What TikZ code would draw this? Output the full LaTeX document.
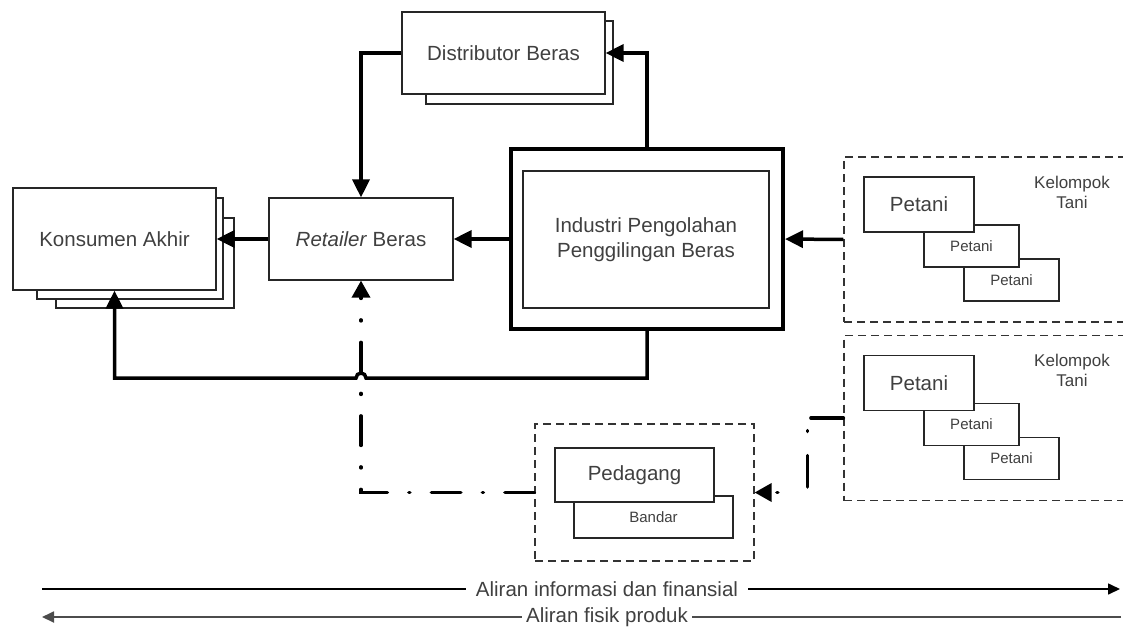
\documentclass[tikz,border=0pt]{standalone}
\usepackage{fontspec}
\setmainfont{Liberation Sans}
\usetikzlibrary{arrows.meta}
\definecolor{txtgray}{HTML}{404040}
\newcommand{\bigtxt}{\fontsize{20.5}{25}\selectfont}
\newcommand{\midtxt}{\fontsize{17}{20}\selectfont}
\newcommand{\smalltxt}{\fontsize{15}{18}\selectfont}

\begin{document}
\begin{tikzpicture}[x=1pt,y=-1pt,
	box/.style={draw=black!85,line width=1.2pt,fill=white,inner sep=0pt,text=txtgray,font=\bigtxt},
	group/.style={draw=black!80,line width=1.2pt,dash pattern=on 8pt off 5pt,inner sep=0pt},
	flow/.style={line width=3.5pt,-{Triangle[length=18pt,width=17pt]}},
	infoflow/.style={line width=3.5pt,line cap=round,dash pattern=on 29.5pt off 21.5pt on 1pt off 21.5pt,-{Triangle[length=17pt,width=18pt]}}]
	\useasboundingbox (0,0) rectangle (1123,626);
	% konsumen (tumpukan)
	\node[box,minimum width=178pt,minimum height=90pt] (kons3) at (145,263) {};
	\node[box,minimum width=186pt,minimum height=101pt] (kons2) at (130,248.5) {};
	\node[box,minimum width=203pt,minimum height=102pt] (kons) at (114.5,239) {Konsumen Akhir};
	\node[box,minimum width=184pt,minimum height=82pt] (ret) at (361,239) {\textit{Retailer} Beras};
	% distributor
	\node[box,minimum width=187pt,minimum height=83pt] (dist2) at (519.5,62.5) {};
	\node[box,minimum width=203pt,minimum height=82pt] (dist) at (503.5,53) {Distributor Beras};
	% industri
	\node[draw,line width=4pt,fill=white,inner sep=0pt,minimum width=272pt,minimum height=180pt] (ind) at (647,239) {};
	\node[box,minimum width=246pt,minimum height=137pt,align=center] (indin) at (646,239.5) {Industri Pengolahan\\Penggilingan Beras};
	% kelompok tani
	\foreach \g/\dy in {1/0,2/178.5}
	{
		\node[group,minimum width=286pt,minimum height=165pt] (kt\g) at (987,{239.5+\dy}) {};
		\node[box,font=\smalltxt,minimum width=95pt,minimum height=42pt] (pc\g) at (1011.5,{280+\dy}) {Petani};
		\node[box,font=\smalltxt,minimum width=95pt,minimum height=42pt] (pb\g) at (971.5,{246+\dy}) {Petani};
		\node[box,minimum width=110pt,minimum height=55pt] (pa\g) at (919,{204.5+\dy}) {Petani};
		\node[text=txtgray,font=\midtxt,align=center] (kt\g lbl) at (1072,{192+\dy}) {Kelompok\\Tani};
	}
	% pedagang
	\node[group,minimum width=219pt,minimum height=137pt] (ped) at (644.5,492.5) {};
	\node[box,font=\smalltxt,minimum width=159pt,minimum height=42pt] (bandar) at (653.5,517) {Bandar};
	\node[box,minimum width=159pt,minimum height=54pt] (pedagang) at (634.5,475) {Pedagang};
	\coordinate (jump) at (361,378);
	% aliran
	\draw[flow] (ret.west) -- (kons.east);
	\draw[flow] (ind.west) -- (ret.east);
	\draw[flow] (dist.west) -| (ret.north);
	\draw[flow] (ind.north) |- (dist.east);
	\draw[flow] (kt1.west) -- (ind.east);
	\draw[flow] (ind.south) |- ([xshift=5pt]jump) arc[start angle=0,end angle=180,radius=5pt] -| (kons.south);
	\draw[infoflow] (ped.west) -| (ret.south);
	\draw[infoflow,dash pattern=on 32.5pt off 16pt on 1pt off 24pt on 31.5pt off 35pt on 1pt off 40pt] (kt2.west) -- ++(-36,0) |- (ped.east);
	% keterangan
	\coordinate (infoL) at (42,589);
	\coordinate (infoR) at (1120,589);
	\coordinate (fisL) at (42,617);
	\coordinate (fisR) at (1121,617);
	\draw[line width=1.6pt,-{Triangle[length=12pt,width=11pt]}] (infoL) -- (infoR);
	\draw[line width=1.8pt,draw=black!70,-{Triangle[length=12pt,width=11pt]}] (fisR) -- (fisL);
	\node[fill=white,inner xsep=10pt,inner ysep=1pt,text=txtgray,font=\bigtxt] (infolbl) at (607,589) {Aliran informasi dan finansial};
	\node[fill=white,inner xsep=4pt,inner ysep=1pt,text=txtgray,font=\bigtxt] (fislbl) at (607,617) {Aliran fisik produk};
\end{tikzpicture}
\end{document}
